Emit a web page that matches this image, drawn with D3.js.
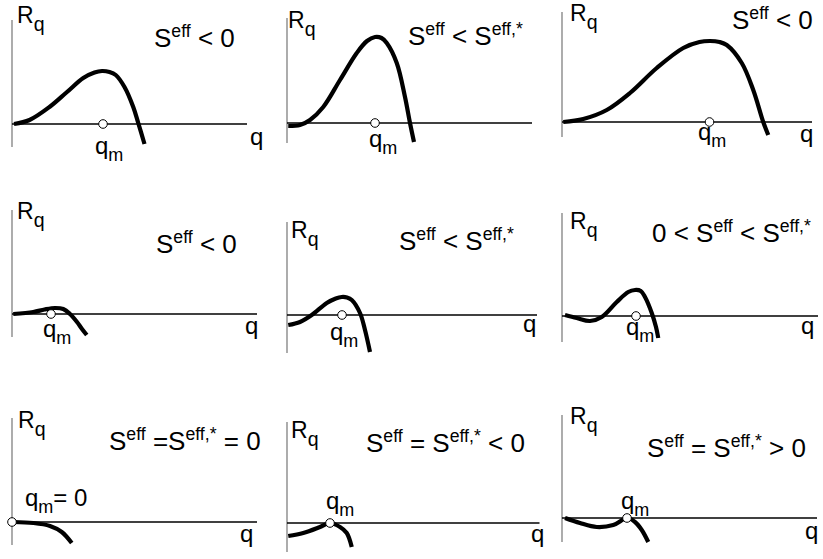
<!DOCTYPE html>
<html>
<head>
<meta charset="utf-8">
<script src="https://cdn.jsdelivr.net/npm/d3@7"></script>
<style>
  body { margin: 0; background: #fff; }
  svg { display: block; font-family: "Liberation Sans", Arial, sans-serif; }
  text { white-space: pre; }
</style>
</head>
<body>
<svg id="chart" width="823" height="559"></svg>
<script>
// condition written in each panel, ^{..} superscript, _{..} subscript
const conditions = [
  "S^{eff} < 0", "S^{eff} < S^{eff,*}", "S^{eff} < 0",
  "S^{eff} < 0", "S^{eff} < S^{eff,*}", "0 < S^{eff} < S^{eff,*}",
  "S^{eff} =S^{eff,*} = 0", "S^{eff} = S^{eff,*} < 0", "S^{eff} = S^{eff,*} > 0"
];
const qmLabels = ["q_{m}", "q_{m}", "q_{m}", "q_{m}", "q_{m}", "q_{m}", "q_{m}= 0", "q_{m}", "q_{m}"];
const showQ = [true, false, true, true, true, true, true, true, true];

// R_q(q) curves (q: 0..100 along the axis, R: up from axis)
const curveQ = [
  [0.8, 7, 15, 22, 28.5, 33, 36, 39, 41.5, 45, 48.5, 50.5, 53],
  [0.5, 5.2, 9.2, 14.5, 21.2, 27.9, 32, 35.2, 37.8, 39.9, 43.9, 47.2, 49.2, 50.8],
  [0.5, 8.5, 17.9, 27.2, 37.9, 48.5, 55, 59.2, 63, 65.9, 71.9, 76.5, 80.5, 82.5],
  [0.5, 8.5, 13, 17.2, 20.5, 23.2, 26, 28, 29.9],
  [0.5, 5.2, 9.9, 15.9, 19.5, 21.9, 24, 25.9, 29.2, 31.2, 33.2],
  [1.2, 5.9, 11.2, 15.9, 21.9, 26.5, 29.2, 31.5, 33.2, 35.9, 37.6, 38.5],
  [0.5, 8.5, 15.2, 19.9, 23.9],
  [0.5, 6.5, 13.2, 17.2, 21.2, 23.9, 25.9],
  [1.2, 7.2, 13.9, 20.5, 26.1, 29.2, 31.9, 34.5]
];
const curveR = [
  [0, 4, 17, 32, 46, 51.5, 53, 52, 49, 37, 17, 1, -20],
  [-3, -2, 3, 16, 43, 70, 82, 86, 85, 80, 60, 26, 0, -19],
  [0, 3, 12, 29, 54, 74, 80, 81, 80, 77, 59, 32, 0, -13],
  [0, 2, 4.5, 6, 5, 0, -8, -15, -21],
  [-10, -7, 0, 12, 16.5, 18, 17.5, 15, 2, -15, -37],
  [1, -2, -5, -1, 14, 24, 26, 25, 19, 3, -11, -22],
  [0, -1, -4, -10, -21],
  [-13, -10, -4, 0, -4, -10, -24],
  [0, -5, -9, -7, 0, -4, -12, -24]
];
const qmValues = [36.4, 35.2, 59, 15.6, 22, 29.6, 0, 17.2, 26];

// panel frames (origin of axes, axis extents) and label anchors
const panels = [
  { x0: 12,  y0: 124, qEnd: 94,  rTop: 104, rBot: -23, rq: [17, 23],  cond: [154, 47],  qm: [95, 154],  qa: [250, 145] },
  { x0: 287, y0: 123, qEnd: 98,  rTop: 105, rBot: -20, rq: [288, 28], cond: [408, 45],  qm: [369, 147], qa: null },
  { x0: 562, y0: 122, qEnd: 100, rTop: 110, rBot: -15, rq: [570, 21], cond: [732, 29],  qm: [698, 140], qa: [800, 142] },
  { x0: 12,  y0: 314, qEnd: 98,  rTop: 104, rBot: -23, rq: [17, 219], cond: [156, 253], qm: [43, 337],  qa: [245, 334] },
  { x0: 287, y0: 315, qEnd: 100, rTop: 93,  rBot: -38, rq: [291, 238], cond: [399, 250], qm: [330, 340], qa: [523, 332] },
  { x0: 562, y0: 316, qEnd: 102.4, rTop: 103, rBot: -26, rq: [570, 229], cond: [652, 242], qm: [626, 335], qa: [801, 334] },
  { x0: 12,  y0: 522, qEnd: 98,  rTop: 104, rBot: -23, rq: [18, 428], cond: [109, 450], qm: [25, 506],  qa: [240, 542] },
  { x0: 287, y0: 523, qEnd: 101, rTop: 101, rBot: -29, rq: [291, 438], cond: [366, 452], qm: [326, 509], qa: [531, 542] },
  { x0: 562, y0: 518, qEnd: 102, rTop: 103, rBot: -24, rq: [570, 424], cond: [647, 457], qm: [621, 509], qa: [805, 539] }
];

const svg = d3.select("#chart");

function richText(sel, str, size, subScale, subShift) {
  subScale = subScale || 0.78;
  subShift = subShift || 0.32;
  let parts = str.split(/([\^_]\{[^}]*\})/).filter(s => s.length);
  let shift = 0;
  parts.forEach(p => {
    let target = 0, fs = size, txt = p;
    if (p[0] === "^") { target = -size * 0.4; fs = size * 0.68; txt = p.slice(2, -1); }
    else if (p[0] === "_") { target = size * subShift; fs = size * subScale; txt = p.slice(2, -1); }
    sel.append("tspan").attr("dy", target - shift).attr("font-size", fs).text(txt);
    shift = target;
  });
}

panels.forEach((p, i) => {
  let x = d3.scaleLinear().domain([0, 100]).range([p.x0, p.x0 + 250]);
  let y = d3.scaleLinear().domain([0, 100]).range([p.y0, p.y0 - 100]);
  let g = svg.append("g");

  // R axis (grey) and q axis
  g.append("line")
    .attr("x1", x(0)).attr("x2", x(0))
    .attr("y1", y(p.rTop)).attr("y2", y(p.rBot))
    .attr("stroke", "#808080").attr("stroke-width", 1.3);
  g.append("line")
    .attr("x1", x(0)).attr("x2", x(p.qEnd))
    .attr("y1", y(0)).attr("y2", y(0))
    .attr("stroke", "#000").attr("stroke-width", 1.6);

  let pts = curveQ[i].map((q, k) => [q, curveR[i][k]]);
  let line = d3.line()
    .curve(d3.curveCatmullRom.alpha(0.5))
    .x(d => x(d[0]))
    .y(d => y(d[1]));
  g.append("path")
    .datum(pts)
    .attr("fill", "none")
    .attr("stroke", "#000")
    .attr("stroke-width", 4.2)
    .attr("d", line);

  g.append("circle")
    .attr("cx", x(qmValues[i])).attr("cy", y(0)).attr("r", 4.3)
    .attr("fill", "#fff").attr("stroke", "#000").attr("stroke-width", 1);

  richText(g.append("text").attr("x", p.rq[0]).attr("y", p.rq[1]), "R_{q}", 23, 0.85, 0.36);
  richText(g.append("text").attr("x", p.cond[0]).attr("y", p.cond[1]), conditions[i], 26);
  richText(g.append("text").attr("x", p.qm[0]).attr("y", p.qm[1]), qmLabels[i], 24, 0.75, 0.3);
  if (showQ[i] && p.qa) {
    g.append("text").attr("x", p.qa[0]).attr("y", p.qa[1]).attr("font-size", 24).text("q");
  }
});
</script>
</body>
</html>
